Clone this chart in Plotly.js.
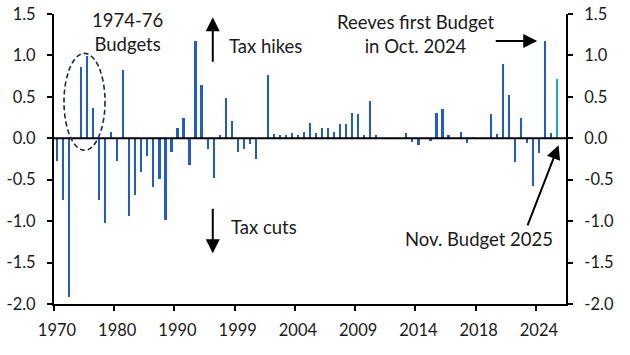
<!DOCTYPE html>
<html>
<head>
<meta charset="utf-8">
<script src="https://cdn.plot.ly/plotly-3.0.1.min.js"></script>
<style>
  html, body { margin: 0; padding: 0; background: #ffffff; }
  #chart { width: 630px; height: 355px; }
</style>
</head>
<body>
<div id="chart"></div>
<script>
// Net tax change announced at each fiscal event, % of GDP (1970 onwards)
const taxChange = [
  -0.27, -0.75, -1.91, 0, 0.86, 0.99, 0.37, -0.74, -1.02, 0.07,
  -0.27, 0.82, -0.94, -0.68, -0.41, -0.21, -0.59, -0.49, -0.99, -0.16,
  0.13, 0.25, -0.32, 1.18, 0.64, -0.13, -0.48, 0.04, 0.49, 0.21,
  -0.17, -0.13, -0.07, -0.25, 0, 0.76, 0.05, 0.04, 0.04, 0.06,
  0.04, 0.07, 0.19, 0.06, 0.12, 0.12, 0.07, 0.17, 0.17, 0.30,
  0.29, 0.04, 0.45, 0.04, 0, 0, 0, 0, 0.06, -0.04,
  -0.08, 0, -0.03, 0.30, 0.35, 0.04, 0, 0.07, -0.06, 0.02,
  0, 0, 0.29, 0.05, 0.90, 0.52, -0.29, 0.25, -0.06, -0.58,
  -0.18, 1.17, 0.06, 0.72
];

// Year labels, one every ten fiscal events
const yearLabels = ["1970", "1980", "1990", "1999", "2004", "2009", "2014", "2018", "2024"];

// Value axis ticks
const yTickVals = [-2.0, -1.5, -1.0, -0.5, 0.0, 0.5, 1.0, 1.5];
const yTickText = ["-2.0", "-1.5", "-1.0", "-0.5", "0.0", "0.5", "1.0", "1.5"];

const BLUE = "#1f5bd3";
const TEAL = "#19b3a2";
const INK = "#1a1a1a";
const FONT = "Lato, 'Open Sans', sans-serif";

const eventIdx = taxChange.map((_, i) => i);
const barColors = taxChange.map((_, i) => (i === taxChange.length - 1 ? TEAL : BLUE));

// ticks sit on the boundaries between groups of ten events
const boundaryTicks = yearLabels.map((_, k) => k * 10 - 0.5);

const bars = {
  type: "bar",
  x: eventIdx,
  y: taxChange,
  width: 0.36,
  marker: { color: barColors, line: { width: 0 } },
  hoverinfo: "y"
};

// invisible companion trace so the right-hand axis is drawn
const rightAxisCarrier = {
  type: "scatter",
  x: [eventIdx[0]],
  y: [taxChange[0]],
  yaxis: "y2",
  mode: "markers",
  marker: { opacity: 0 },
  hoverinfo: "skip",
  showlegend: false
};

const yAxisCommon = {
  range: [-2, 1.5],
  tickmode: "array",
  tickvals: yTickVals,
  ticktext: yTickText,
  ticks: "outside",
  ticklen: 5,
  tickwidth: 2,
  tickcolor: "#000",
  showline: true,
  linecolor: "#000",
  linewidth: 2,
  showgrid: false,
  zeroline: false,
  ticklabelstandoff: 8,
  tickfont: { family: FONT, size: 16.5, color: INK },
  fixedrange: true
};

const annFont = { family: FONT, size: 18.5, color: INK };

const layout = {
  width: 630,
  height: 355,
  margin: { l: 54, r: 64, t: 14, b: 51, pad: 0 },
  paper_bgcolor: "#ffffff",
  plot_bgcolor: "#ffffff",
  showlegend: false,
  bargap: 0,
  xaxis: {
    range: [-0.5, 84.5],
    tickmode: "array",
    tickvals: boundaryTicks,
    ticktext: yearLabels,
    ticklabelshift: 3,
    ticks: "outside",
    ticklen: 5,
    tickwidth: 2,
    tickcolor: "#000",
    showline: true,
    linecolor: "#000",
    linewidth: 2,
    showgrid: false,
    zeroline: false,
    ticklabelstandoff: 5,
    tickfont: { family: FONT, size: 16.5, color: INK },
    fixedrange: true
  },
  yaxis: Object.assign({}, yAxisCommon, { side: "left" }),
  yaxis2: Object.assign({}, yAxisCommon, { side: "right", overlaying: "y" }),
  shapes: [
    // zero line on top of the bars
    { type: "line", xref: "paper", x0: 0, x1: 1, yref: "y", y0: 0, y1: 0,
      line: { color: "#000", width: 2 }, layer: "above" },
    // dashed ring round the 1974-76 Budgets
    { type: "circle", xref: "x", yref: "y", x0: 1.16, x1: 7.97, y0: -0.145, y1: 1.025,
      line: { color: "#1b2a48", width: 1.6, dash: "5px,3px" }, layer: "above" }
  ],
  annotations: [
    { xref: "x", yref: "y", x: 11.63, y: 1.279, text: "1974-76<br>Budgets",
      showarrow: false, font: annFont, xanchor: "center", yanchor: "middle", align: "center" },
    { xref: "x", yref: "y", x: 28.24, y: 1.11, text: "Tax hikes",
      showarrow: false, font: annFont, xanchor: "left", yanchor: "middle" },
    { xref: "x", yref: "y", x: 28.57, y: -1.074, text: "Tax cuts",
      showarrow: false, font: annFont, xanchor: "left", yanchor: "middle" },
    { xref: "x", yref: "y", x: 59.47, y: 1.255, text: "Reeves first Budget<br>in Oct. 2024",
      showarrow: false, font: annFont, xanchor: "center", yanchor: "middle", align: "center" },
    { xref: "x", yref: "y", x: 70.1, y: -1.218, text: "Nov. Budget 2025",
      showarrow: false, font: annFont, xanchor: "center", yanchor: "middle" },
    // arrows
    { xref: "x", yref: "y", x: 25.86, y: 1.46, ax: 0, ay: 46, text: "",
      showarrow: true, arrowhead: 2, arrowsize: 1.4, arrowwidth: 2, arrowcolor: "#000", standoff: 0 },
    { xref: "x", yref: "y", x: 25.86, y: -1.387, ax: 0, ay: -46, text: "",
      showarrow: true, arrowhead: 2, arrowsize: 1.4, arrowwidth: 2, arrowcolor: "#000", standoff: 0 },
    { xref: "x", yref: "y", x: 79.73, y: 1.174, ax: -43, ay: 0, text: "",
      showarrow: true, arrowhead: 2, arrowsize: 1.4, arrowwidth: 2, arrowcolor: "#000", standoff: 0 },
    { xref: "x", yref: "y", x: 83.27, y: -0.084, ax: -31.6, ay: 81.7, text: "",
      showarrow: true, arrowhead: 2, arrowsize: 1.4, arrowwidth: 2, arrowcolor: "#000", standoff: 0 }
  ]
};

Plotly.newPlot("chart", [bars, rightAxisCarrier], layout, { displayModeBar: false, staticPlot: true });
</script>
</body>
</html>
